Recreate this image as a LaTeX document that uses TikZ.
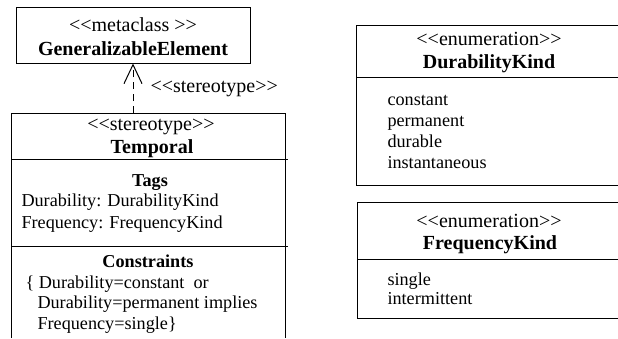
\documentclass[tikz,border=0pt]{standalone}
\usepackage{fontspec}
\setmainfont{Liberation Serif}
\usetikzlibrary{arrows.meta}
\tikzset{
  body/.style={inner sep=0pt, yshift=-2pt, text height=12pt, text depth=3pt, font=\fontsize{18.2}{21}\selectfont},
  head/.style={inner sep=0pt, yshift=-2pt, text height=12pt, text depth=3pt, font=\fontsize{20}{22}\selectfont},
  title/.style={inner sep=0pt, yshift=-2pt, text height=12pt, text depth=3pt, font=\fontsize{20}{22}\selectfont\bfseries},
  subtitle/.style={title, font=\fontsize{18.2}{21}\selectfont\bfseries},
}

\begin{document}
\begin{tikzpicture}[x=1pt, y=-1pt, line width=1pt]
\useasboundingbox (0,0) rectangle (618,338);
% metaclass
\node[draw, minimum width=234pt, minimum height=56pt] (ge) at (133,35) {};
\node[head] (gestereo) at (133,25) {<{}<metaclass >{}>};
\node[title] (gename) at (133,49) {GeneralizableElement};
% stereotype Temporal
\draw (11,338)--(11,113)--(285,113)--(285,338);
\draw (11,159)--(288,159);
\draw (11,246)--(288,246);
\coordinate (tptop) at (133,113);
\draw[dash pattern=on 7pt off 5pt, -{Straight Barb[length=19pt, width=18pt]}] (tptop)--(ge.south);
\node[head, anchor=west] (extlabel) at (150,86) {<{}<stereotype>{}>};
\node[head] (tpstereo) at (151,124) {<{}<stereotype>{}>};
\node[title] (tpname) at (152,147) {Temporal};
\node[subtitle] (tags) at (150,180) {Tags};
\node[body, anchor=west] (tagdur) at (21,200) {Durability: DurabilityKind};
\node[body, anchor=west] (tagfreq) at (21,222) {Frequency: FrequencyKind};
\node[subtitle] (constr) at (148,261) {Constraints};
\node[body, anchor=west] (con1) at (25,282) {\{ Durability=constant\ \ or};
\node[body, anchor=west] (con2) at (37,302) {Durability=permanent implies};
\node[body, anchor=west] (con3) at (37,323) {Frequency=single\}};
% enumeration DurabilityKind
\draw (618,25)--(356,25)--(356,185)--(618,185);
\draw (356,77)--(618,77);
\node[head] (dkstereo) at (489,39) {<{}<enumeration>{}>};
\node[title] (dkname) at (489,62) {DurabilityKind};
\node[body, anchor=west] (dkconst) at (387,99) {constant};
\node[body, anchor=west] (dkperm) at (387,120) {permanent};
\node[body, anchor=west] (dkdur) at (387,141) {durable};
\node[body, anchor=west] (dkinst) at (387,162) {instantaneous};
% enumeration FrequencyKind
\draw (618,202)--(357,202)--(357,318)--(618,318);
\draw (357,259)--(618,259);
\node[head] (fkstereo) at (489,221) {<{}<enumeration>{}>};
\node[title] (fkname) at (490,243) {FrequencyKind};
\node[body, anchor=west] (fksingle) at (387,279) {single};
\node[body, anchor=west] (fkinter) at (387,298) {intermittent};
\end{tikzpicture}
\end{document}
